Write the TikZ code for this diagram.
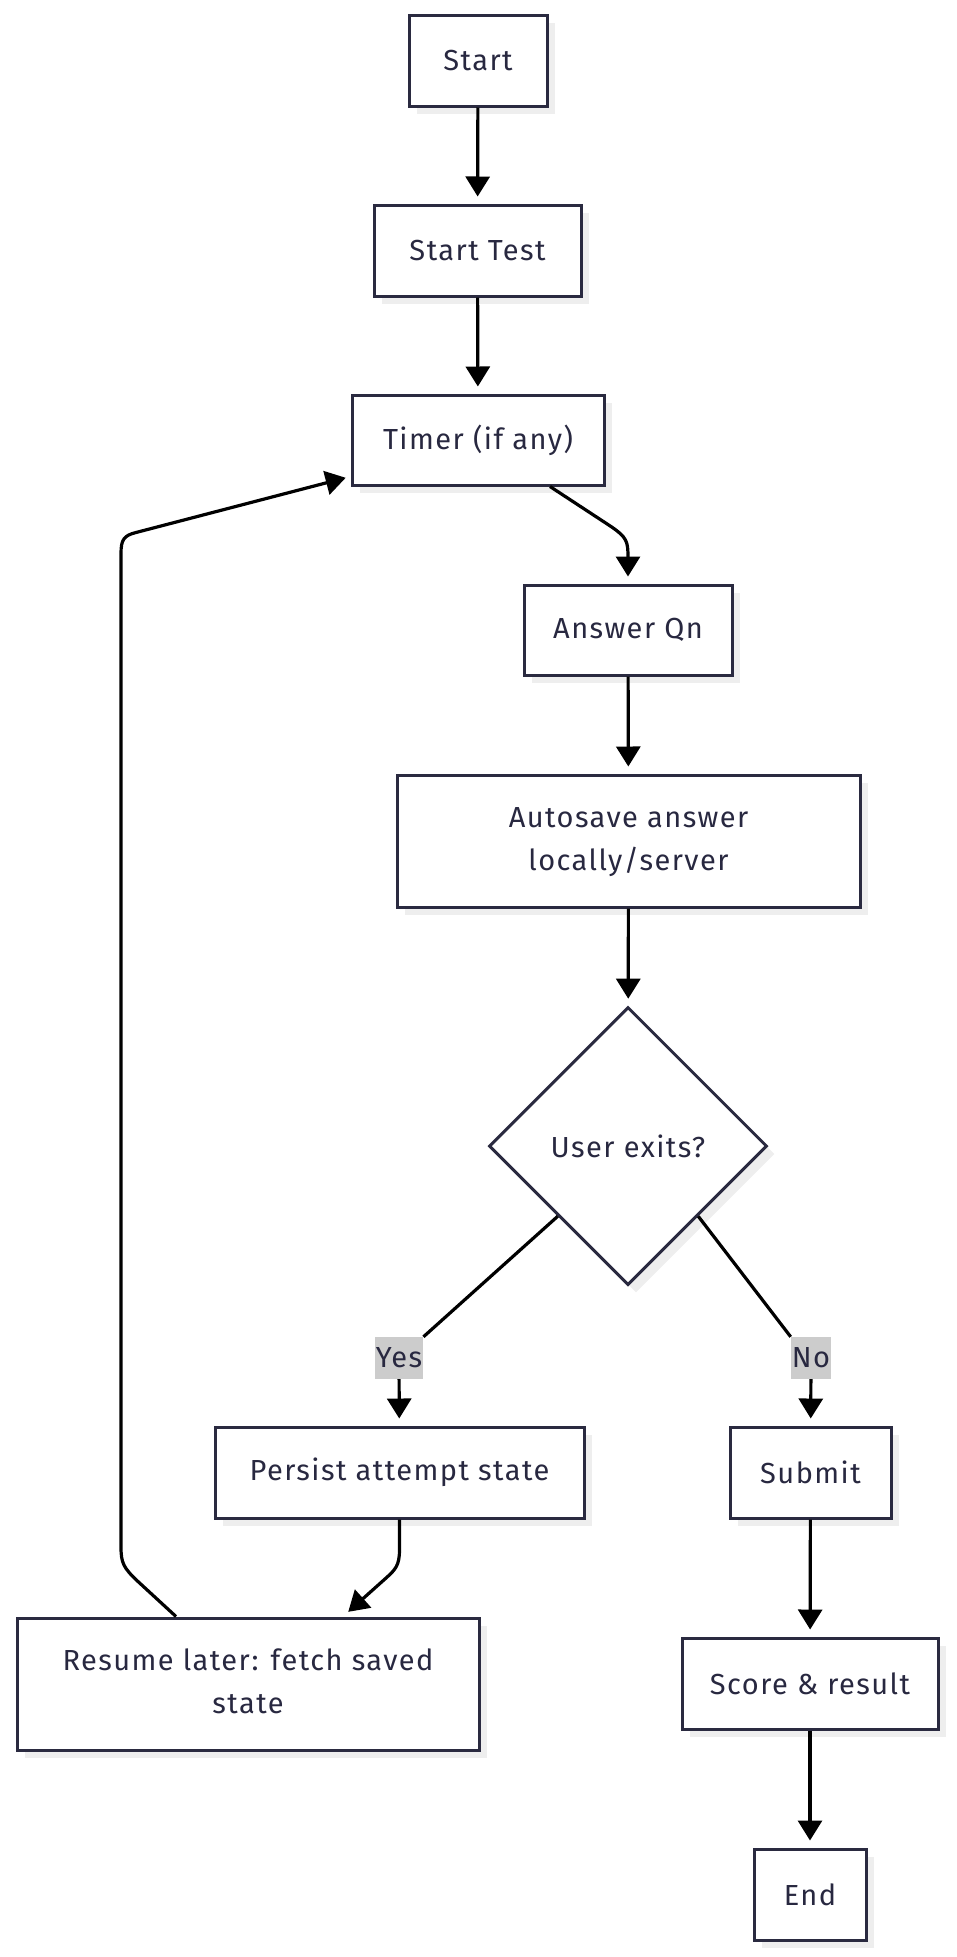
\documentclass[tikz,border=0pt]{standalone}
\usepackage{fontspec}
\setmainfont[LetterSpace=5]{Fira Sans}
\usetikzlibrary{arrows.meta,shapes.geometric,shadows,calc}
\definecolor{boxline}{RGB}{42,42,64}
\definecolor{boxtext}{RGB}{40,40,64}
\definecolor{shade}{RGB}{238,238,238}
\definecolor{lblbg}{RGB}{204,204,204}
% two centred lines, lowered a little inside their box
\newcommand{\twolines}[2]{\raisebox{-5pt}{\begin{tabular}{@{}c@{}}#1\\[1.5pt]#2\end{tabular}}}

\begin{document}
\begin{tikzpicture}[x=1pt,y=-1pt,
  box/.style={draw=boxline, line width=3pt, fill=white, text=boxtext,
    align=center, inner sep=0pt, font=\fontsize{29}{41}\selectfont,
    drop shadow={shadow xshift=8pt, shadow yshift=-8pt, fill=shade, opacity=1}},
  lbl/.style={fill=lblbg, text=boxtext, font=\fontsize{29}{32}\selectfont,
    inner sep=1pt, minimum height=42pt},
  link/.style={draw=black, line width=3.2pt, line join=round},
  arr/.style={link, -{Triangle[length=20pt,width=24pt]}, shorten >=7pt}]
\useasboundingbox (0,0) rectangle (957,1957);

% process steps
\node[box, minimum width=138pt, minimum height=91pt] (start) at (478,60.5) {Start};
\node[box, minimum width=207pt, minimum height=91pt] (starttest) at (477.5,250.5) {Start Test};
\node[box, minimum width=252pt, minimum height=90pt] (timer) at (478,440) {Timer (if any)};
\node[box, minimum width=208pt, minimum height=90pt] (answer) at (628,630) {Answer Qn};
\node[box, minimum width=463pt, minimum height=132pt] (autosave) at (628.5,841) {\twolines{Autosave answer}{locally/server}};
\node[box, diamond, minimum width=278pt, minimum height=278pt] (dec) at (628,1146) {User exits?};
\node[box, minimum width=369pt, minimum height=91pt] (persist) at (399.5,1472.5) {Persist attempt state};
\node[box, minimum width=161pt, minimum height=91pt] (submit) at (810.5,1472.5) {Submit};
\node[box, minimum width=462pt, minimum height=132pt] (resume) at (248,1684) {\twolines{Resume later: fetch saved}{state}};
\node[box, minimum width=256pt, minimum height=91pt] (score) at (810,1683.5) {Score \& result};
\node[box, minimum width=112pt, minimum height=91pt] (end) at (810,1894.5) {End};

% branch labels
\node[lbl] (yes) at (399,1358) {Yes};
\node[lbl] (no) at (811,1358) {No};

% connectors
\draw[arr] (start) -- (starttest);
\draw[arr] (starttest) -- (timer);
\draw[arr] ([xshift=72pt]timer.south) -- ++(61,40)
  .. controls +(16,11) and +(0,-16) .. ++(17,31) -- (answer.north);
\draw[arr] (answer) -- (autosave);
\draw[arr] (autosave) -- (dec);
\draw[link] (dec.south west) -- (yes.north east);
\draw[arr] (yes) -- (persist);
\draw[link] (dec.south east) -- (no.north west);
\draw[arr] (no) -- (submit);
\draw[arr] (submit) -- (score);
\draw[arr] (score) -- (end);
\draw[arr] (persist.south) -- ++(0,30)
  .. controls +(0,16) and +(10,-9) .. ++(-14,29) -- ([xshift=95pt]resume.north);
\draw[arr] ([xshift=-72pt]resume.north) -- ++(-38,-35)
  .. controls +(-15,-14) and +(0,16) .. ++(-17,-35) -- ++(0,-993)
  .. controls +(0,-14) and +(-12,3) .. ++(15,-21)
  -- ([shift={(2pt,-36pt)}]timer.west);
\end{tikzpicture}
\end{document}
